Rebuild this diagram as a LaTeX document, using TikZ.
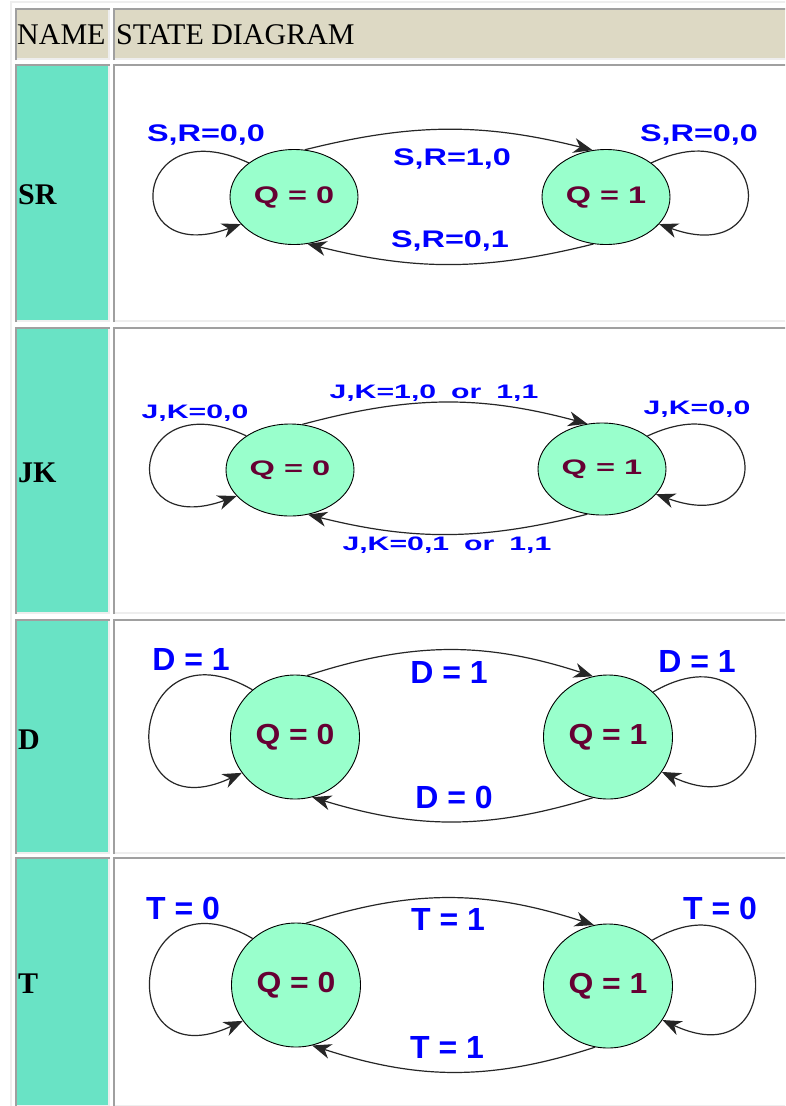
\documentclass[tikz,border=0pt]{standalone}
\usepackage{fontspec}
\setmainfont{Liberation Serif}
\newfontfamily\srfont[FakeStretch=1.35]{Liberation Sans}
\newfontfamily\jkfont[FakeStretch=1.55]{Liberation Sans}
\newfontfamily\dtfont{Liberation Sans}
\newfontfamily\dtqfont[FakeStretch=1.1]{Liberation Sans}
\newcommand{\jkspacing}{\spaceskip=15pt\relax}
\usetikzlibrary{arrows.meta,shapes.geometric}
\definecolor{tableBorder}{HTML}{A0A0A0}
\definecolor{tableLight}{HTML}{EEEEEE}
\definecolor{headerFill}{HTML}{DDD9C4}
\definecolor{nameFill}{HTML}{69E3C5}
\definecolor{stateFill}{HTML}{99FFCC}
\definecolor{stateText}{HTML}{660033}
\definecolor{condBlue}{HTML}{0000FF}

\begin{document}
\begin{tikzpicture}[
  x=1pt, y=1pt,
  cell dark/.style={draw=tableBorder, line width=2pt},
  cell light/.style={draw=tableLight, line width=2pt},
  headtext/.style={anchor=base west, inner sep=0pt, font=\fontsize{30}{30}\selectfont},
  flipflop/.style={headtext, font=\bfseries\fontsize{30}{30}\selectfont},
  qstate/.style={ellipse, draw=black, line width=0.9pt, fill=stateFill,
    text=stateText, inner sep=0pt},
  sr state/.style={qstate, minimum width=128pt, minimum height=95pt,
    font=\srfont\bfseries\fontsize{24}{24}\selectfont},
  jk state/.style={qstate, minimum width=128pt, minimum height=92pt,
    font=\jkfont\bfseries\fontsize{21}{21}\selectfont},
  dt state/.style={qstate, minimum width=129pt, minimum height=124pt,
    font=\dtqfont\bfseries\fontsize{29}{29}\selectfont},
  cond/.style={anchor=base, inner sep=0pt, text=condBlue},
  sr cond/.style={cond, font=\srfont\bfseries\fontsize{24}{24}\selectfont},
  jk cond/.style={cond, font=\jkfont\bfseries\fontsize{19.5}{19.5}\selectfont\jkspacing},
  dt cond/.style={cond, font=\dtfont\bfseries\fontsize{32}{32}\selectfont},
  trans/.style={-{Stealth[length=19pt,width=15pt,inset=6pt]}, draw=black!85, line width=1.2pt}
]
\useasboundingbox (0,0) rectangle (785,-1106);
\clip (0,0) rectangle (785,-1106);
\fill[white] (0,0) rectangle (785,-1106);

% Table cells with inset borders.
\fill[headerFill] (15,-8) rectangle (110,-60);
\fill[headerFill] (113,-8) rectangle (790,-60);
\foreach \ytop/\ybot in {64/322,327/614,619/854,857/1107}
  \fill[nameFill] (15,-\ytop) rectangle (110,-\ybot);
\foreach \ytop/\ybot in {8/60,64/322,327/614,619/854,857/1107}
  \foreach \xl/\xr in {15/110,113/790} {
    \draw[cell light] (\xl,-\ybot+1) -- (\xr-1,-\ybot+1) -- (\xr-1,-\ytop);
    \draw[cell dark] (\xl+1,-\ybot) -- (\xl+1,-\ytop-1) -- (\xr,-\ytop-1);
  }
\draw[cell light] (11,-1106) -- (11,-2) -- (790,-2);

\node[headtext] (head-name) at (17,-44) {NAME};
\node[headtext] (head-diag) at (116,-44) {STATE DIAGRAM};
\node[flipflop] (name-sr) at (18,-204) {SR};
\node[flipflop] (name-jk) at (18,-482) {JK};
\node[flipflop] (name-d) at (18,-749) {D};
\node[flipflop] (name-t) at (18,-993) {T};

% SR
\node[sr state] (sr0) at (294,-197) {Q = 0};
\node[sr state] (sr1) at (606,-197) {Q = 1};
\node[sr cond] (sr-hold0) at (206,-141) {S,R=0,0};
\node[sr cond] (sr-set) at (452,-165) {S,R=1,0};
\node[sr cond] (sr-reset) at (450,-247) {S,R=0,1};
\node[sr cond] (sr-hold1) at (699,-141) {S,R=0,0};
\draw[trans] (sr0.77) to[out=14,in=166] (sr1.106);
\draw[trans] (sr1.255) to[out=194,in=346] (sr0.286);
\draw[trans] (sr0.143) .. controls +(155:130) and +(200:130) .. (sr0.207);
\draw[trans] (sr1.37) .. controls +(25:132) and +(-20:132) .. (sr1.333);

% JK
\node[jk state] (jk0) at (290,-470) {Q = 0};
\node[jk state] (jk1) at (602,-469) {Q = 1};
\node[jk cond] (jk-hold0) at (195,-418) {J,K=0,0};
\node[jk cond] (jk-set) at (434,-398) {J,K=1,0 or 1,1};
\node[jk cond] (jk-reset) at (447,-550) {J,K=0,1 or 1,1};
\node[jk cond] (jk-hold1) at (697,-414) {J,K=0,0};
\draw[trans] (jk0.75) to[out=15,in=165] (jk1.108);
\draw[trans] (jk1.252) to[out=194,in=346] (jk0.292);
\draw[trans] (jk0.142) .. controls +(155:130) and +(200:130) .. (jk0.206);
\draw[trans] (jk1.36) .. controls +(25:132) and +(-20:132) .. (jk1.335);

% D
\node[dt state] (d0) at (295,-737) {Q = 0};
\node[dt state] (d1) at (608,-737) {Q = 1};
\node[dt cond] (d-hold0) at (191,-670) {D = 1};
\node[dt cond] (d-set) at (449,-683) {D = 1};
\node[dt cond] (d-reset) at (454,-808) {D = 0};
\node[dt cond] (d-hold1) at (697,-672) {D = 1};
\draw[trans] (d0.79) to[out=18,in=162] (d1.104);
\draw[trans] (d1.256) to[out=197,in=343] (d0.286);
\draw[trans] (d0.132) .. controls +(150:145) and +(205:145) .. (d0.214);
\draw[trans] (d1.45) .. controls +(30:145) and +(-25:145) .. (d1.327);

% T
\node[dt state] (t0) at (296,-985) {Q = 0};
\node[dt state] (t1) at (608,-986) {Q = 1};
\node[dt cond] (t-hold0) at (183,-919) {T = 0};
\node[dt cond] (t-tog0) at (448,-930) {T = 1};
\node[dt cond] (t-tog1) at (447,-1058) {T = 1};
\node[dt cond] (t-hold1) at (720,-919) {T = 0};
\draw[trans] (t0.81) to[out=18,in=162] (t1.103);
\draw[trans] (t1.258) to[out=198,in=342] (t0.285);
\draw[trans] (t0.133) .. controls +(150:145) and +(205:145) .. (t0.214);
\draw[trans] (t1.46) .. controls +(30:145) and +(-25:145) .. (t1.328);
\end{tikzpicture}
\end{document}
